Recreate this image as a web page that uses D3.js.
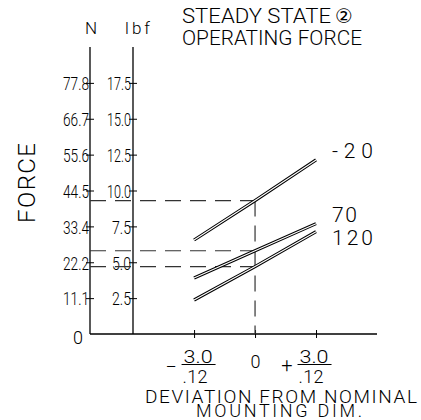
<!DOCTYPE html>
<html>
<head>
<meta charset="utf-8">
<script src="https://cdn.jsdelivr.net/npm/d3@7"></script>
<style>
  body { margin: 0; background: #fff; }
  text { font-family: Roboto, "DejaVu Sans Condensed", sans-serif; font-weight: 300; fill: #000; }
</style>
</head>
<body>
<svg id="chart" width="421" height="420"></svg>
<script>
// values (lbf, deviation in mm)
const temps = ["-20", "70", "120"];
const devPoints = [-3, 0, 3];
const forceMinus20 = [6.55, 9.3, 12.13];
const force70 = [3.9, 5.8, 7.69];
const force120 = [2.37, 4.7, 7.13];
const lbfTicks = [2.5, 5, 7.5, 10, 12.5, 15, 17.5];
const nLabels = ["0", "11.1", "22.2", "33.4", "44.5", "55.6", "66.7", "77.8"];
const devTicks = [-3, 0, 3];
const devTickLabels = [["\u2212", "3.0", ".12"], ["", "0", ""], ["+", "3.0", ".12"]];

const series = [forceMinus20, force70, force120].map((vals, i) => ({
  name: temps[i],
  points: vals.map((v, j) => ({ x: devPoints[j], y: v })),
}));

const svg = d3.select("#chart");

const y = d3.scaleLinear().domain([0, 20]).range([334, 47]);
const x = d3.scaleLinear().domain([-8.12, 6]).range([90, 377]);
const xN = 90;
const xLbf = 133;

// squeeze text horizontally to get the tall narrow drafting look
const narrow = (sel, len) =>
  sel.attr("textLength", len).attr("lengthAdjust", "spacingAndGlyphs");

// N axis (labels only, ticks crossing the line)
const nAxis = svg
  .append("g")
  .attr("transform", `translate(${xN},0)`)
  .call(
    d3
      .axisLeft(y)
      .tickValues([0].concat(lbfTicks))
      .tickFormat((d, i) => nLabels[i])
      .tickSize(4)
  );
nAxis.select(".domain").remove();
nAxis.selectAll(".tick line").attr("x2", 4).attr("x1", -4).attr("stroke", "#000");
nAxis.selectAll(".tick text")
  .attr("x", -1).attr("dy", "0.38em")
  .style("font-size", "18px")
  .each(function () { narrow(d3.select(this), 26); });
nAxis.selectAll(".tick").filter((d) => d === 0).select("line").remove();
nAxis.selectAll(".tick").filter((d) => d === 0).select("text")
  .attr("x", -7).attr("dy", "0.55em").attr("textLength", null).style("font-size", "18px");

// lbf axis
const lbfAxis = svg
  .append("g")
  .attr("transform", `translate(${xLbf},0)`)
  .call(d3.axisLeft(y).tickValues(lbfTicks).tickFormat(d3.format(".1f")).tickSize(4));
lbfAxis.select(".domain").remove();
lbfAxis.selectAll(".tick line").attr("x2", 4).attr("x1", -4).attr("stroke", "#000");
lbfAxis.selectAll(".tick text")
  .attr("x", -2).attr("dy", "0.38em")
  .style("font-size", "18px")
  .each(function (d) { narrow(d3.select(this), d >= 10 ? 24 : 19); });

// vertical axis lines
[xN, xLbf].forEach((px) => {
  svg.append("line")
    .attr("x1", px).attr("x2", px)
    .attr("y1", y(20)).attr("y2", y(0))
    .attr("stroke", "#000").attr("stroke-width", 1.3);
});

// bottom axis
const xAxis = svg
  .append("g")
  .attr("transform", `translate(0,${y(0)})`)
  .call(d3.axisBottom(x).tickValues(devTicks).tickFormat("").tickSize(4));
xAxis.select(".domain").remove();
xAxis.selectAll(".tick line").attr("y1", -4).attr("y2", 4).attr("stroke", "#000");
svg.append("line")
  .attr("x1", x.range()[0]).attr("x2", x.range()[1])
  .attr("y1", y(0)).attr("y2", y(0))
  .attr("stroke", "#000").attr("stroke-width", 1.3);

xAxis.selectAll(".tick").each(function (d, i) {
  const g = d3.select(this);
  const [sign, top, bottom] = devTickLabels[i];
  if (!bottom) {
    g.append("text").attr("x", 0).attr("y", 34).attr("text-anchor", "middle")
      .style("font-size", "18px").text(top);
    return;
  }
  const off = d < 0 ? -13 : -19;
  g.append("text").attr("x", off - 5).attr("y", d < 0 ? 40 : 37.5).attr("text-anchor", "end")
    .style("font-size", "20px").text(sign);
  g.append("line")
    .attr("x1", off).attr("x2", off + 34)
    .attr("y1", 30.5).attr("y2", 30.5)
    .attr("stroke", "#000").attr("stroke-width", 1.1);
  narrow(
    g.append("text").attr("x", off + 2).attr("y", 28.5).attr("text-anchor", "start")
      .style("font-size", "18px").text(top),
    29
  );
  g.append("text").attr("x", off + 1).attr("y", 49).attr("text-anchor", "start")
    .style("font-size", "18px")
    .attr("textLength", 25).attr("lengthAdjust", "spacing")
    .text(bottom);
});

// dashed guide lines at nominal
const dash = "16,9";
series.forEach((s) => {
  const v = s.points[1].y;
  svg.append("line")
    .attr("x1", xN).attr("x2", x(0))
    .attr("y1", y(v)).attr("y2", y(v))
    .attr("stroke", "#333").attr("stroke-width", 1.2)
    .attr("stroke-dasharray", dash);
});
svg.append("line")
  .attr("x1", x(0)).attr("x2", x(0))
  .attr("y1", y(forceMinus20[1])).attr("y2", y(0))
  .attr("stroke", "#333").attr("stroke-width", 1.2)
  .attr("stroke-dasharray", dash);

// double lines
const line = d3.line().x((d) => x(d.x)).y((d) => y(d.y));
series.forEach((s) => {
  svg.append("path").datum(s.points).attr("d", line)
    .attr("fill", "none").attr("stroke", "#000").attr("stroke-width", 3.2);
  svg.append("path").datum(s.points).attr("d", line)
    .attr("fill", "none").attr("stroke", "#fff").attr("stroke-width", 1.1);
});

// series labels, placed beside the right end of each line
const labelShift = { "-20": -2, "70": -2, "120": 13 };
const labelLen = { "-20": 41, "70": 25, "120": 41 };
series.forEach((s) => {
  const last = s.points[s.points.length - 1];
  svg.append("text")
    .attr("x", 332)
    .attr("y", y(last.y) + labelShift[s.name])
    .style("font-size", "21px")
    .attr("textLength", labelLen[s.name])
    .attr("lengthAdjust", "spacing")
    .text(s.name);
});

// titles
svg.append("text").attr("x", 85).attr("y", 34).style("font-size", "17px").text("N");
svg.append("text").attr("x", 125).attr("y", 34).style("font-size", "17px")
  .attr("textLength", 25).attr("lengthAdjust", "spacing").text("lbf");
narrow(svg.append("text").attr("x", 182).attr("y", 23).style("font-size", "21px")
  .text("STEADY STATE"), 149);
svg.append("text").attr("x", 335).attr("y", 23).style("font-size", "20px")
  .style("font-family", "DejaVu Sans").style("font-weight", 400).text("\u2461");
narrow(svg.append("text").attr("x", 182).attr("y", 45).style("font-size", "21px")
  .text("OPERATING FORCE"), 180);
svg.append("text")
  .attr("transform", "translate(35,183) rotate(-90)")
  .attr("text-anchor", "middle")
  .style("font-size", "24px")
  .attr("textLength", 80)
  .attr("lengthAdjust", "spacing")
  .text("FORCE");
svg.append("text").attr("x", 145).attr("y", 403).style("font-size", "19px")
  .attr("textLength", 272).attr("lengthAdjust", "spacing").text("DEVIATION FROM NOMINAL");
svg.append("text").attr("x", 196).attr("y", 417).style("font-size", "18px")
  .attr("textLength", 166).attr("lengthAdjust", "spacing").text("MOUNTING DIM.");
</script>
</body>
</html>
